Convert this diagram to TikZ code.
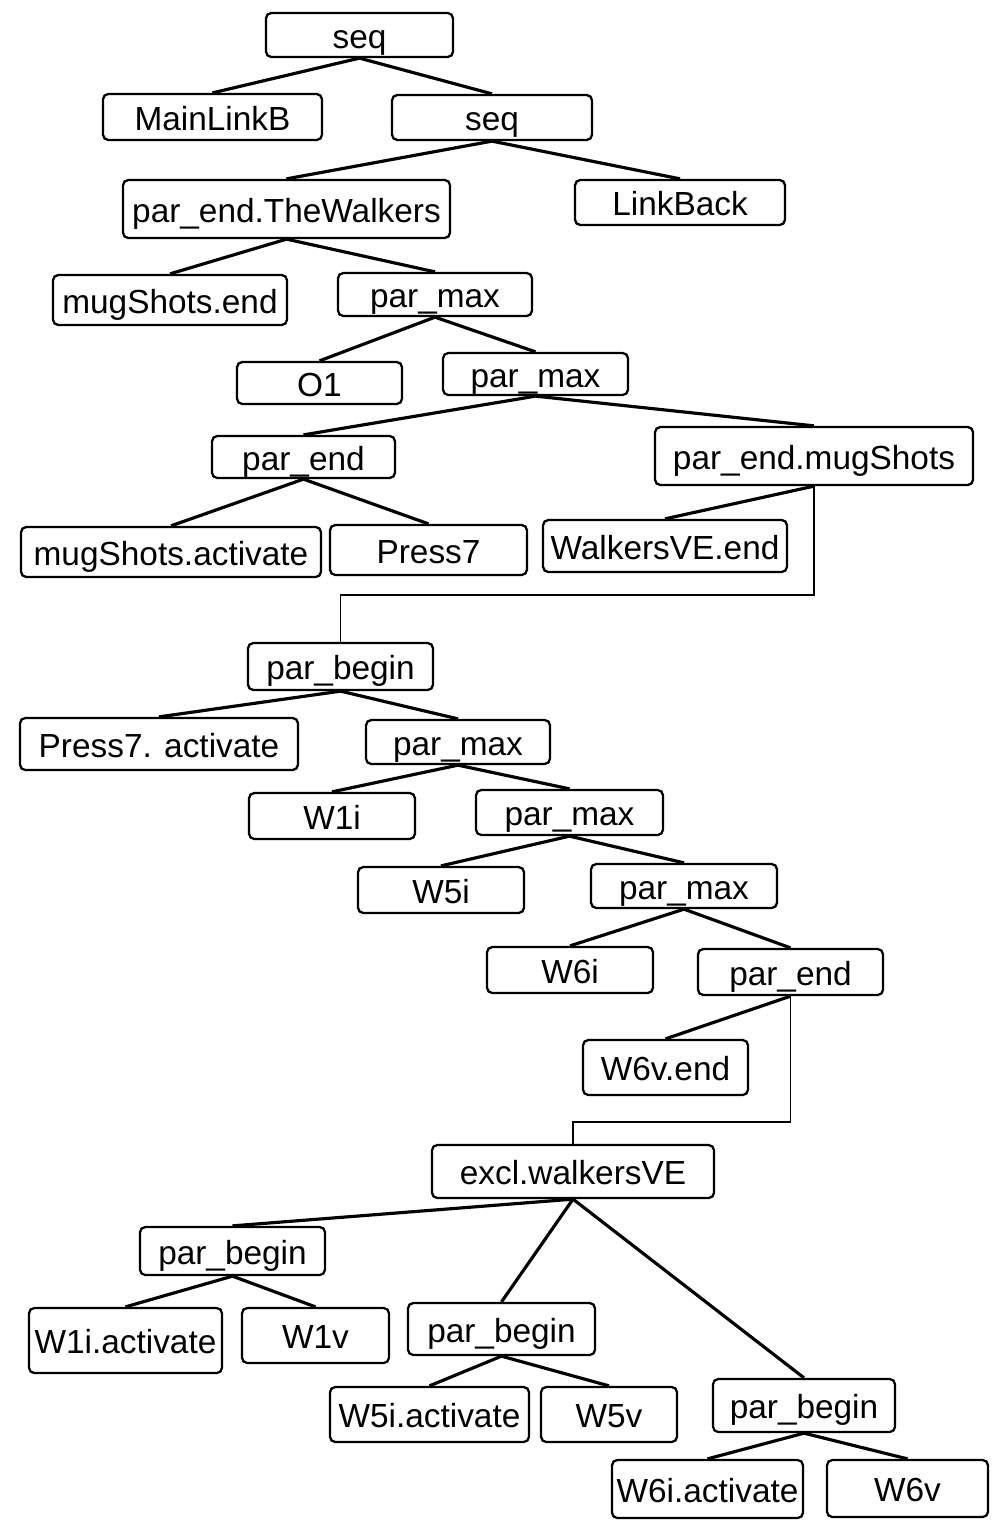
\documentclass[tikz,border=0pt]{standalone}
\usepackage{fontspec}
\setmainfont{Liberation Sans}
\usepackage{tikz}
\usetikzlibrary{calc,positioning}
\tikzset{
    caja/.style 2 args={draw,rounded corners=3pt,line width=1.3pt,inner sep=0pt,
        minimum width=#1*0.02cm,minimum height=#2*0.02cm,
        text height=16pt,text depth=1pt},
    rama/.style={draw,line width=1.8pt},
    codo/.style={draw,line width=1pt},
}

\begin{document}
\begin{tikzpicture}[
    x=0.02cm,y=-0.02cm,
    every node/.style={node font=\fontsize{19pt}{22pt}\selectfont},
]
    \useasboundingbox (0,0) rectangle (993,1520);
    \node [caja={187}{44}] (raiz) at (359.5,35) {seq};
    \node [caja={219}{46}] (mainlink) at (212.5,117) {MainLinkB};
    \node [caja={200}{45}] (seqb) at (492,117.5) {seq};
    \node [caja={327}{58}] (walkers) at (286.5,209) {par\_end.TheWalkers};
    \node [caja={210}{45}] (linkback) at (680,202.5) {LinkBack};
    \node [caja={234}{50}] (mugend) at (170,300) {mugShots.end};
    \node [caja={194}{43}] (pmaxa) at (435,294.5) {par\_max};
    \node [caja={165}{42}] (oone) at (319.5,383) {O1};
    \node [caja={185}{42}] (pmaxb) at (535.5,374) {par\_max};
    \node [caja={183}{42}] (penda) at (303.5,457) {par\_end};
    \node [caja={318}{58}] (pendmug) at (814,456) {par\_end.mugShots};
    \node [caja={300}{50}] (mugact) at (171,552) {mugShots.activate};
    \node [caja={197}{50}] (press) at (428.5,550) {Press7};
    \node [caja={244}{52}] (wvend) at (665,546) {WalkersVE.end};
    \node [caja={185}{47}] (pbegina) at (340.5,666.5) {par\_begin};
    \node [caja={278}{52}] (pressact) at (159,744) {Press7. activate};
    \node [caja={184}{44}] (pmaxc) at (458,742) {par\_max};
    \node [caja={166}{46}] (wonei) at (332,816) {W1i};
    \node [caja={187}{45}] (pmaxd) at (569.5,812.5) {par\_max};
    \node [caja={166}{46}] (wfivei) at (441,890) {W5i};
    \node [caja={186}{44}] (pmaxe) at (684,886) {par\_max};
    \node [caja={166}{46}] (wsixi) at (570,970) {W6i};
    \node [caja={185}{46}] (pendb) at (790.5,972) {par\_end};
    \node [caja={165}{55}] (wsixvend) at (665.5,1067.5) {W6v.end};
    \node [caja={282}{53}] (excl) at (573,1171.5) {excl.walkersVE};
    \node [caja={185}{48}] (pbeginb) at (232.5,1251) {par\_begin};
    \node [caja={193}{65}] (woneact) at (125.5,1340.5) {W1i.activate};
    \node [caja={147}{55}] (wonev) at (315.5,1335.5) {W1v};
    \node [caja={187}{52}] (pbeginc) at (501.5,1329) {par\_begin};
    \node [caja={199}{55}] (wfiveact) at (429.5,1414.5) {W5i.activate};
    \node [caja={136}{55}] (wfivev) at (609,1414.5) {W5v};
    \node [caja={182}{53}] (pbegind) at (804,1405.5) {par\_begin};
    \node [caja={191}{58}] (wsixact) at (707.5,1489) {W6i.activate};
    \node [caja={161}{57}] (wsixv) at (907.5,1488.5) {W6v};
    \coordinate (codoa) at (340.5,595);
    \coordinate (codob) at (573,1122);
    \path [rama] (raiz.south) -- (mainlink.north);
    \path [rama] (raiz.south) -- (seqb.north);
    \path [rama] (seqb.south) -- (walkers.north);
    \path [rama] (seqb.south) -- (linkback.north);
    \path [rama] (walkers.south) -- (mugend.north);
    \path [rama] (walkers.south) -- (pmaxa.north);
    \path [rama] (pmaxa.south) -- (oone.north);
    \path [rama] (pmaxa.south) -- (pmaxb.north);
    \path [rama] (pmaxb.south) -- (penda.north);
    \path [rama] (pmaxb.south) -- (pendmug.north);
    \path [rama] (penda.south) -- (mugact.north);
    \path [rama] (penda.south) -- (press.north);
    \path [rama] (pendmug.south) -- (wvend.north);
    \path [codo] (pendmug.south) |- (codoa) -- (pbegina.north);
    \path [rama] (pbegina.south) -- (pressact.north);
    \path [rama] (pbegina.south) -- (pmaxc.north);
    \path [rama] (pmaxc.south) -- (wonei.north);
    \path [rama] (pmaxc.south) -- (pmaxd.north);
    \path [rama] (pmaxd.south) -- (wfivei.north);
    \path [rama] (pmaxd.south) -- (pmaxe.north);
    \path [rama] (pmaxe.south) -- (wsixi.north);
    \path [rama] (pmaxe.south) -- (pendb.north);
    \path [rama] (pendb.south) -- (wsixvend.north);
    \path [codo] (pendb.south) |- (codob) -- (excl.north);
    \path [rama] (excl.south) -- (pbeginb.north);
    \path [rama] (excl.south) -- (pbeginc.north);
    \path [rama] (excl.south) -- (pbegind.north);
    \path [rama] (pbeginb.south) -- (woneact.north);
    \path [rama] (pbeginb.south) -- (wonev.north);
    \path [rama] (pbeginc.south) -- (wfiveact.north);
    \path [rama] (pbeginc.south) -- (wfivev.north);
    \path [rama] (pbegind.south) -- (wsixact.north);
    \path [rama] (pbegind.south) -- (wsixv.north);
\end{tikzpicture}
\end{document}
